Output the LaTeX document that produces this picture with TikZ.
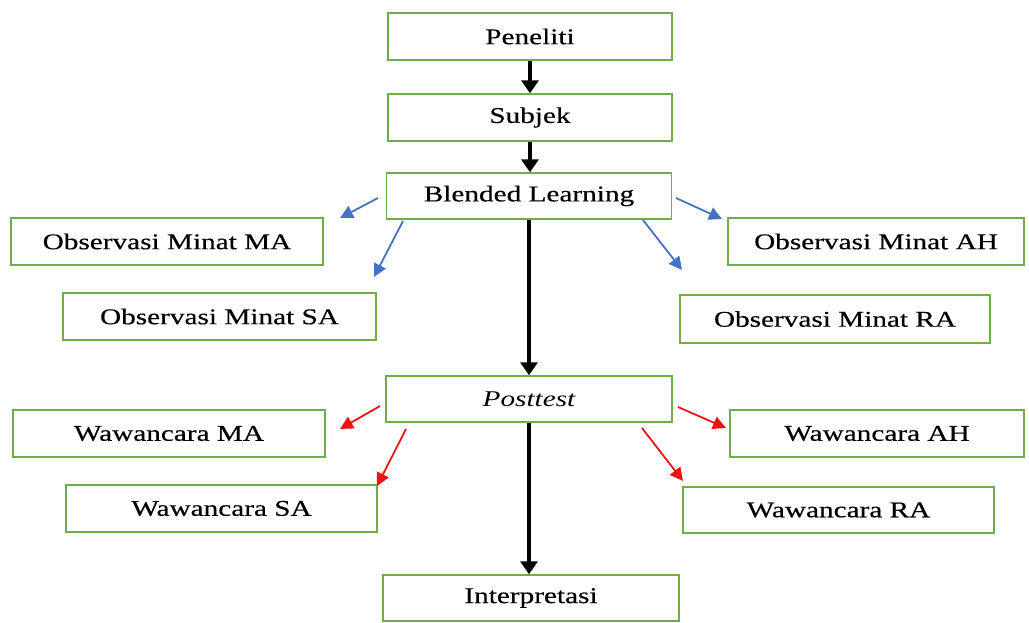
\documentclass[tikz,border=0pt]{standalone}
\usepackage{fontspec}
\usepackage{graphicx}
\setmainfont{Liberation Serif}
\newfontfamily\boxfont{Liberation Serif}[FakeBold=0.3]
\usetikzlibrary{arrows.meta}
\definecolor{boxgreen}{RGB}{112,173,71}
\definecolor{arrowblue}{RGB}{68,114,196}
\definecolor{arrowred}{RGB}{235,20,20}
\newcommand{\hstr}[1]{\scalebox{1.3}[1]{#1}}
\begin{document}
\begin{tikzpicture}[x=1pt,y=-1pt,
  box/.style={draw=boxgreen, line width=1.4pt, minimum height=47pt, inner sep=0pt, fill=white,
    font=\fontsize{22.5}{27}\boxfont},
  blk/.style={line width=3.5pt, -{Triangle[length=13pt,width=17pt]}},
  bl/.style={draw=arrowblue, line width=1.8pt, -{Triangle[length=13pt,width=13pt]}, arrowblue},
  rd/.style={draw=arrowred, line width=1.8pt, -{Triangle[length=13pt,width=13pt]}, arrowred}]
\useasboundingbox (0,0) rectangle (1029,623);
% main column
\node[box, minimum width=284pt] (pen) at (530,36.5) {\hstr{Peneliti}};
\node[box, minimum width=284pt] (sub) at (530,117.5) {\hstr{Subjek}};
\node[box, minimum width=285pt, minimum height=46pt] (bl) at (529,196) {\hstr{Blended Learning}};
\node[box, minimum width=286pt, minimum height=46pt] (post) at (529,399) {\hstr{\fontsize{22.5}{27}\rmfamily\itshape Posttest}};
\node[box, minimum width=296pt, minimum height=46pt] (int) at (531,598) {\hstr{Interpretasi}};
% observation boxes
\node[box, minimum width=312pt] (oma) at (167,241.5) {\hstr{Observasi Minat MA}};
\node[box, minimum width=313pt] (osa) at (219.5,316.5) {\hstr{Observasi Minat SA}};
\node[box, minimum width=296pt] (oah) at (876,241.5) {\hstr{Observasi Minat AH}};
\node[box, minimum width=310pt, minimum height=48pt] (ora) at (835,319) {\hstr{Observasi Minat RA}};
% interview boxes
\node[box, minimum width=312pt] (wma) at (169,433.5) {\hstr{Wawancara MA}};
\node[box, minimum width=311pt] (wsa) at (221.5,508.5) {\hstr{Wawancara SA}};
\node[box, minimum width=294pt] (wah) at (877,433.5) {\hstr{Wawancara AH}};
\node[box, minimum width=311pt, minimum height=46pt] (wra) at (838.5,510) {\hstr{Wawancara RA}};
% black arrows
\draw[blk] (pen.south) -- (pen.south |- sub.north);
\draw[blk] (sub.south) -- (sub.south |- bl.north);
\draw[blk] (bl.south) -- (bl.south |- post.north);
\draw[blk] (post.south) -- (post.south |- int.north);
% blue arrows
\coordinate (b1s) at (378,198); \coordinate (b1e) at (340,218);
\coordinate (b2s) at (403,221); \coordinate (b2e) at (374,277);
\coordinate (b3s) at (676,198); \coordinate (b3e) at (722,219);
\coordinate (b4s) at (643,220); \coordinate (b4e) at (682,270);
\draw[bl] (b1s) -- (b1e);
\draw[bl] (b2s) -- (b2e);
\draw[bl] (b3s) -- (b3e);
\draw[bl] (b4s) -- (b4e);
% red arrows
\coordinate (r1s) at (380,406); \coordinate (r1e) at (340,429);
\coordinate (r2s) at (406,429); \coordinate (r2e) at (377,486);
\coordinate (r3s) at (678,407); \coordinate (r3e) at (726,428);
\coordinate (r4s) at (642,428); \coordinate (r4e) at (683,481);
\draw[rd] (r1s) -- (r1e);
\draw[rd] (r2s) -- (r2e);
\draw[rd] (r3s) -- (r3e);
\draw[rd] (r4s) -- (r4e);
\end{tikzpicture}
\end{document}
